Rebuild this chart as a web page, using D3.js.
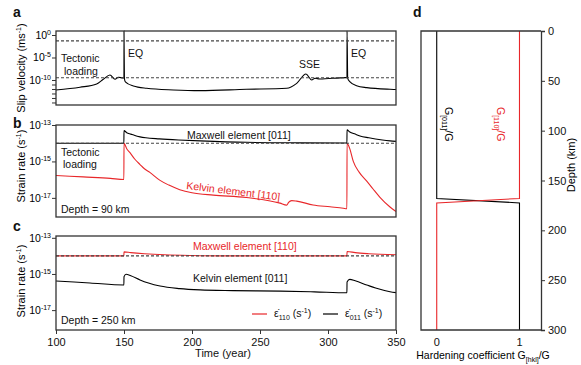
<!DOCTYPE html>
<html>
<head>
<meta charset="utf-8">
<script src="https://cdn.jsdelivr.net/npm/d3@7"></script>
<style>
body { margin: 0; background: #fff; }
text { font-family: "Liberation Sans", Arial, sans-serif; }
</style>
</head>
<body>
<div id="chart"></div>
<script>
// ---- data (log10 of rates) ----
var slipYears = [100, 117.6, 129.9, 134.8, 139.7, 143.4, 145.8, 149.5, 149.95, 150, 150.3, 151, 156.9, 166.7, 186.3, 205.9, 240, 269.6, 277, 283.8, 288, 290.4, 294, 313, 313.95, 314, 314.5, 316, 321, 328.5, 345.6, 350];
var slipLog   = [-12.22, -11.62, -10.89, -9.84, -8.89, -9.84, -9.4, -9.56, -9.56, 0.9, -9.7, -10.4, -11.33, -11.85, -12.22, -12.37, -12.07, -11.85, -10.74, -8.67, -10.0, -9.63, -9.78, -9.48, -9.48, 0.9, -9.63, -10.37, -11.26, -11.7, -12.07, -12.12];
var slipDashed = [-1.3, -9.5];

// panel b, depth 90 km
var maxB011Years = [100, 149.9, 150, 152, 155, 158, 161.8, 166, 176, 190, 206, 240, 280, 313.9, 314, 316, 320, 323.5, 330, 340, 345.6, 350];
var maxB011Log   = [-14.0, -14.0, -13.31, -13.42, -13.5, -13.58, -13.65, -13.7, -13.76, -13.82, -13.87, -13.95, -13.98, -13.99, -13.27, -13.38, -13.5, -13.6, -13.7, -13.82, -13.87, -13.9];
var kelB110Years = [100, 120, 140, 149.9, 150, 152, 154.4, 158, 161.8, 165, 169, 176.5, 183, 191, 200, 215.7, 240, 264.7, 269.6, 271, 273.3, 277, 289, 301.5, 311.3, 313.9, 314, 316, 318.6, 323, 328.5, 333, 338.2, 345.6, 350];
var kelB110Log   = [-15.77, -15.85, -15.93, -15.99, -14.0, -14.3, -14.52, -14.88, -15.17, -15.4, -15.6, -16.04, -16.3, -16.55, -16.72, -16.85, -16.98, -17.29, -17.4, -17.25, -17.15, -17.18, -17.39, -17.49, -17.57, -17.6, -14.0, -14.3, -15.0, -15.6, -16.08, -16.5, -16.97, -17.5, -17.75];

// panel c, depth 250 km
var maxC110Years = [100, 149.9, 150, 155, 165, 180, 200, 220, 313.9, 314, 320, 330, 350];
var maxC110Log   = [-14.0, -14.0, -13.78, -13.82, -13.88, -13.94, -13.98, -14.0, -14.0, -13.76, -13.82, -13.88, -13.94];
var kelC011Years = [100, 125, 149.9, 150, 151.5, 155, 161.8, 168, 176.5, 191, 206, 230, 265, 290, 313.9, 314, 316, 320, 328.5, 335, 345.6, 350];
var kelC011Log   = [-15.39, -15.5, -15.61, -15.15, -15.02, -15.1, -15.33, -15.5, -15.67, -15.81, -15.88, -15.92, -15.95, -15.99, -16.04, -15.45, -15.3, -15.38, -15.61, -15.78, -15.98, -16.03];
var loadingLog = -14;

// panel d, hardening coefficient vs depth
var g011Coef  = [0, 0, 1, 1];
var g011Depth = [0, 168, 172.5, 300];
var g110Coef  = [1, 1, 0, 0];
var g110Depth = [0, 168, 172.5, 300];

var timeTicks = [100, 150, 200, 250, 300, 350];
var depthTicks = [0, 50, 100, 150, 200, 250, 300];
var coefTicks = [0, 1];

var RED = "#e8272a";

var svg = d3.select("#chart").append("svg")
    .attr("width", 581)
    .attr("height", 365);

var x = d3.scaleLinear().domain([100, 350]).range([56, 396]);

function zip(xs, ys) { return xs.map(function(d, i) { return [d, ys[i]]; }); }

// draws "10^p" style label
function powLabel(g, xx, yy, p) {
    var t = g.append("text")
        .attr("x", xx).attr("y", yy)
        .attr("text-anchor", "end")
        .style("font-size", "10.5px");
    t.append("tspan").text("10");
    t.append("tspan").attr("dy", -4).style("font-size", "7px").text(p);
}

// lo/hi are log10 bounds of the y domain (bottom/top)
function panel(top, bottom, lo, hi, labelled, minor) {
    var y = d3.scaleLog().domain([Math.pow(10, lo), Math.pow(10, hi)]).range([bottom, top]);
    var g = svg.append("g");
    g.append("g")
        .attr("transform", "translate(56,0)")
        .call(d3.axisLeft(y).tickValues(labelled.concat(minor).map(function(p) { return Math.pow(10, p); }))
            .tickSize(4).tickFormat(""))
        .call(function(a) { a.select(".domain").remove(); a.selectAll("line").attr("stroke", "#333"); });
    labelled.forEach(function(p) { powLabel(g, 51, y(Math.pow(10, p)) + 4, p); });
    return {g: g, y: y};
}

function frame(g, top, bottom) {
    g.append("rect")
        .attr("x", 56).attr("y", top)
        .attr("width", 340).attr("height", bottom - top)
        .attr("fill", "none").attr("stroke", "#333").attr("stroke-width", 1.3);
}

function series(g, y, xs, ls, color, w) {
    var line = d3.line()
        .curve(d3.curveMonotoneX)
        .x(function(d) { return x(d[0]); })
        .y(function(d) { return y(Math.pow(10, d[1])); });
    g.append("path")
        .datum(zip(xs, ls))
        .attr("d", line)
        .attr("fill", "none")
        .attr("stroke", color)
        .attr("stroke-width", w || 1.1);
}

function dashed(g, y, p) {
    g.append("line")
        .attr("x1", 56).attr("x2", 396)
        .attr("y1", y(Math.pow(10, p))).attr("y2", y(Math.pow(10, p)))
        .attr("stroke", "#444").attr("stroke-width", 1.1)
        .attr("stroke-dasharray", "3,2");
}

function txt(g, xx, yy, s, opts) {
    opts = opts || {};
    return g.append("text")
        .attr("x", xx).attr("y", yy)
        .attr("text-anchor", opts.anchor || "start")
        .attr("fill", opts.color || "#111")
        .style("font-size", (opts.size || 10.5) + "px")
        .style("font-weight", opts.bold ? "bold" : null)
        .text(s);
}

function ylabel(yy, main) {
    var t = svg.append("text")
        .attr("transform", "translate(25," + yy + ") rotate(-90)")
        .attr("text-anchor", "middle")
        .style("font-size", "11px");
    t.append("tspan").text(main);
    t.append("tspan").attr("dy", -4).style("font-size", "7px").text("-1");
    t.append("tspan").attr("dy", 4).text(")");
}

// ---- panel a ----
var pa = panel(31, 105, -15.56, 0.89, [0, -5, -10], [-11, -12, -13, -14, -15]);
series(pa.g, pa.y, slipYears, slipLog, "#000", 1.1);
slipDashed.forEach(function(p) { dashed(pa.g, pa.y, p); });
frame(pa.g, 31, 105);
txt(svg, 13, 17, "a", {bold: true, size: 14});
txt(svg, 61, 62, "Tectonic");
txt(svg, 64, 75, "loading");
txt(svg, 128, 57, "EQ");
txt(svg, 299, 68, "SSE");
txt(svg, 351, 57, "EQ");
ylabel(68, "Slip velocity (ms");

// ---- panel b ----
var pb = panel(125, 217, -18.05, -13, [-13, -15, -17], []);
series(pb.g, pb.y, kelB110Years, kelB110Log, RED, 1.1);
series(pb.g, pb.y, maxB011Years, maxB011Log, "#000", 1.1);
dashed(pb.g, pb.y, loadingLog);
frame(pb.g, 125, 217);
txt(svg, 13, 128, "b", {bold: true, size: 14});
txt(svg, 61, 156, "Tectonic");
txt(svg, 63, 168, "loading");
txt(svg, 187, 139, "Maxwell element [011]");
txt(svg, 186, 189, "Kelvin element [110]", {color: RED})
    .attr("transform", "rotate(7,186,189)");
txt(svg, 61, 213, "Depth = 90 km");
ylabel(166, "Strain rate (s");

// ---- panel c ----
var pc = panel(236, 330, -18.1, -12.9, [-13, -15, -17], []);
series(pc.g, pc.y, maxC110Years, maxC110Log, RED, 1.1);
series(pc.g, pc.y, kelC011Years, kelC011Log, "#000", 1.1);
dashed(pc.g, pc.y, loadingLog);
frame(pc.g, 236, 330);
txt(svg, 13, 231, "c", {bold: true, size: 14});
txt(svg, 193, 250, "Maxwell element [110]", {color: RED});
txt(svg, 193, 282, "Kelvin element [011]");
txt(svg, 61, 324, "Depth = 250 km");
ylabel(281, "Strain rate (s");

svg.append("g")
    .attr("transform", "translate(0,330)")
    .call(d3.axisBottom(x).tickValues(timeTicks).tickSize(4).tickPadding(4))
    .call(function(a) {
        a.select(".domain").remove();
        a.selectAll("line").attr("stroke", "#333");
        a.selectAll("text").style("font-size", "11px").attr("fill", "#111")
            .style("font-family", "'Liberation Sans', Arial, sans-serif");
    });
txt(svg, 223, 357, "Time (year)", {anchor: "middle", size: 11});

// legend
function legendItem(xx, color, sub) {
    svg.append("line").attr("x1", xx).attr("x2", xx + 15)
        .attr("y1", 314).attr("y2", 314)
        .attr("stroke", color).attr("stroke-width", 1.2);
    var t = svg.append("text").attr("x", xx + 22).attr("y", 317).style("font-size", "10.5px").attr("fill", "#111");
    t.append("tspan").text("\u03b5\u0307");
    t.append("tspan").attr("dy", 3).style("font-size", "7px").text(sub);
    t.append("tspan").attr("dy", -3).text(" (s");
    t.append("tspan").attr("dy", -4).style("font-size", "7px").text("-1");
    t.append("tspan").attr("dy", 4).text(")");
}
legendItem(252, RED, "110");
legendItem(323, "#000", "011");

// ---- panel d ----
var xd = d3.scaleLinear().domain([-0.19, 1.26]).range([421, 541]);
var yd = d3.scaleLinear().domain([0, 300]).range([31, 330]);
var gd = svg.append("g");
var dline = d3.line().x(function(d) { return xd(d[0]); }).y(function(d) { return yd(d[1]); });
gd.append("path").datum(zip(g011Coef, g011Depth)).attr("d", dline)
    .attr("fill", "none").attr("stroke", "#000").attr("stroke-width", 1.1);
gd.append("path").datum(zip(g110Coef, g110Depth)).attr("d", dline)
    .attr("fill", "none").attr("stroke", RED).attr("stroke-width", 1.1);
gd.append("path")
    .attr("d", "M541,31H421V330H541")
    .attr("fill", "none").attr("stroke", "#333").attr("stroke-width", 1.3);
gd.append("g")
    .attr("transform", "translate(541,0)")
    .call(d3.axisRight(yd).tickValues(depthTicks).tickSize(4).tickPadding(3))
    .call(function(a) {
        a.select(".domain").attr("stroke", "#333").attr("stroke-width", 1.3);
        a.selectAll("line").attr("stroke", "#333");
        a.selectAll("text").style("font-size", "11px").attr("fill", "#111")
            .style("font-family", "'Liberation Sans', Arial, sans-serif");
    });
coefTicks.forEach(function(c) { txt(svg, xd(c), 346, String(c), {anchor: "middle", size: 11}); });
txt(svg, 413, 17, "d", {bold: true, size: 14});

var dl = svg.append("text").attr("x", 483).attr("y", 359).attr("text-anchor", "middle")
    .style("font-size", "10.5px");
dl.append("tspan").text("Hardening coefficient G");
dl.append("tspan").attr("dy", 3).style("font-size", "7px").text("[hkl]");
dl.append("tspan").attr("dy", -3).text("/G");

svg.append("text")
    .attr("transform", "translate(575,165) rotate(-90)")
    .attr("text-anchor", "middle")
    .style("font-size", "11px")
    .text("Depth (km)");

function gLabel(xx, color, sub) {
    var t = svg.append("text")
        .attr("transform", "translate(" + xx + ",107) rotate(90)")
        .attr("fill", color)
        .style("font-size", "10.5px");
    t.append("tspan").text("G");
    t.append("tspan").attr("dy", 3).style("font-size", "7px").text(sub);
    t.append("tspan").attr("dy", -3).text("/G");
}
gLabel(445, "#000", "[011]");
gLabel(497, RED, "[110]");
</script>
</body>
</html>
